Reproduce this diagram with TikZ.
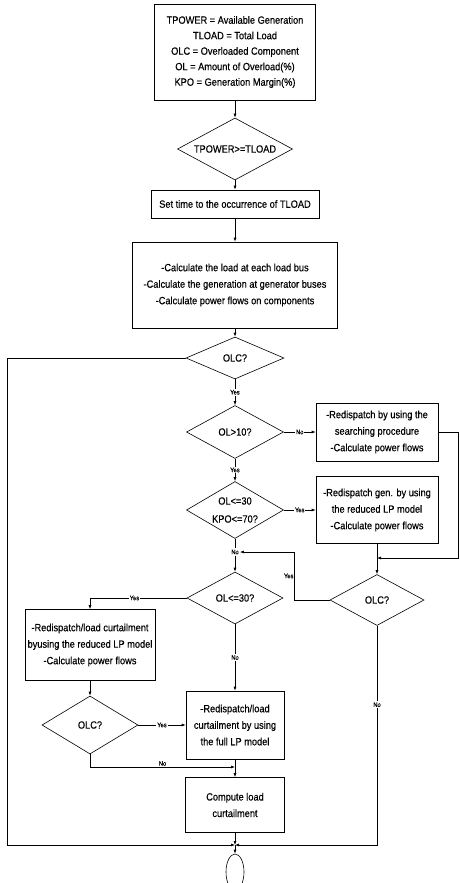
\documentclass[tikz,border=0pt]{standalone}
\usepackage{fontspec}
\setmainfont{Liberation Sans}[FakeStretch=0.88, FakeBold=0.4]
\usepackage{tikz}
\usetikzlibrary{arrows.meta,shapes.geometric}

\begin{document}
\begin{tikzpicture}[x=1pt, y=-1pt, >={Latex[length=4pt,width=3pt]}, line width=0.6pt,
    box/.style={draw, rectangle, align=center, inner sep=0pt, font=\fontsize{10.5}{16.5}\selectfont},
    decision/.style={draw, diamond, aspect=1.8, align=center, inner sep=0pt, font=\fontsize{10.5}{13}\selectfont},
    lbl/.style={fill=white, inner sep=1pt, font=\fontsize{6.5}{7}\selectfont}]
    \useasboundingbox (0,0) rectangle (459,883);

    \node[box, minimum width=161pt, minimum height=96pt, font=\fontsize{10.5}{15.5}\selectfont] (defs) at (235,52)
        {TPOWER = Available Generation\\TLOAD = Total Load\\OLC = Overloaded Component\\OL = Amount of Overload(\%)\\KPO = Generation Margin(\%)};
    \node[decision, minimum width=115pt, minimum height=62pt] (dpow) at (235,149) {TPOWER>=TLOAD};
    \node[box, minimum width=168pt, minimum height=28pt] (settime) at (235,204) {Set time to the occurrence of TLOAD};
    \node[box, minimum width=205pt, minimum height=86pt] (calc) at (235,285)
        {-Calculate the load at each load bus\\-Calculate the generation at generator buses\\-Calculate power flows on components};
    \node[decision, minimum width=98pt, minimum height=42pt] (olc1) at (235,358) {OLC?};
    \node[decision, minimum width=97pt, minimum height=53pt] (ol10) at (235,432) {OL>10?};
    \node[box, minimum width=122pt, minimum height=58pt] (search) at (377,432)
        {-Redispatch by using the\\searching procedure\\-Calculate power flows};
    \node[decision, minimum width=97pt, minimum height=57pt, font=\fontsize{10.5}{18}\selectfont] (ol30kpo) at (235,510) {OL<=30\\KPO<=70?};
    \node[box, minimum width=122pt, minimum height=67pt] (lp) at (377,510)
        {-Redispatch gen. by using\\the reduced LP model\\-Calculate power flows};
    \node[decision, minimum width=94pt, minimum height=51pt] (olc2) at (377,600) {OLC?};
    \node[decision, minimum width=96pt, minimum height=52pt] (ol30) at (235,598) {OL<=30?};
    \node[box, minimum width=130pt, minimum height=71pt] (redload) at (90,645)
        {-Redispatch/load curtailment\\byusing the reduced LP model\\-Calculate power flows};
    \node[decision, minimum width=96pt, minimum height=58pt] (olc3) at (90,725) {OLC?};
    \node[box, minimum width=98pt, minimum height=68pt] (full) at (235,725)
        {-Redispatch/load\\curtailment by using\\the full LP model};
    \node[box, minimum width=99pt, minimum height=55pt] (compute) at (235,805) {Compute load\\curtailment};
    \node[draw, ellipse, minimum width=18pt, minimum height=36pt, inner sep=0pt] (finish) at (235,872) {};

    \coordinate (merge) at (235,845);
    \coordinate (lft) at (7,845);
    \coordinate (rtop) at (458.5,432);
    \coordinate (rbot) at (458.5,558);
    \coordinate (rjoin) at (377,558);
    \coordinate (nomeet) at (235,767);
    \node[lbl] (nojoin) at (235,552) {No};

    \draw[->] (defs) -- (dpow);
    \draw[->] (dpow) -- (settime);
    \draw[->] (settime) -- (calc);
    \draw[->] (calc) -- (olc1);
    \draw[->] (olc1) -- node[lbl] {Yes} (ol10);
    \draw[->] (ol10) -- node[lbl] {No} (search);
    \draw[->] (ol10) -- node[lbl] {Yes} (ol30kpo);
    \draw[->] (ol30kpo) -- node[lbl] {Yes} (lp);
    \draw (ol30kpo) -- (nojoin);
    \draw[->] (nojoin) -- (ol30);
    \draw[->] (lp) -- (olc2);
    \draw[->] (search.east) -- (rtop) -- (rbot) -- (rjoin);
    \draw[->] (olc2.west) -- ++(-35,0) |- node[lbl, pos=0.25, left] {Yes} (nojoin.east);
    \draw[->] (ol30.west) -| node[lbl, pos=0.27] {Yes} (redload.north);
    \draw[->] (ol30) -- node[lbl] {No} (full);
    \draw[->] (redload) -- (olc3);
    \draw[->] (olc3) -- node[lbl] {Yes} (full);
    \draw[->] (olc3.south) |- node[lbl, pos=0.75, above] {No} (nomeet);
    \draw[->] (full) -- (compute);
    \draw[->] (compute) -- (merge);
    \draw[->] (olc1.west) -| (lft) -- (merge);
    \draw[->] (olc2.south) |- node[lbl, pos=0.18] {No} (merge);
    \draw[->] (merge) -- (finish);
\end{tikzpicture}
\end{document}
